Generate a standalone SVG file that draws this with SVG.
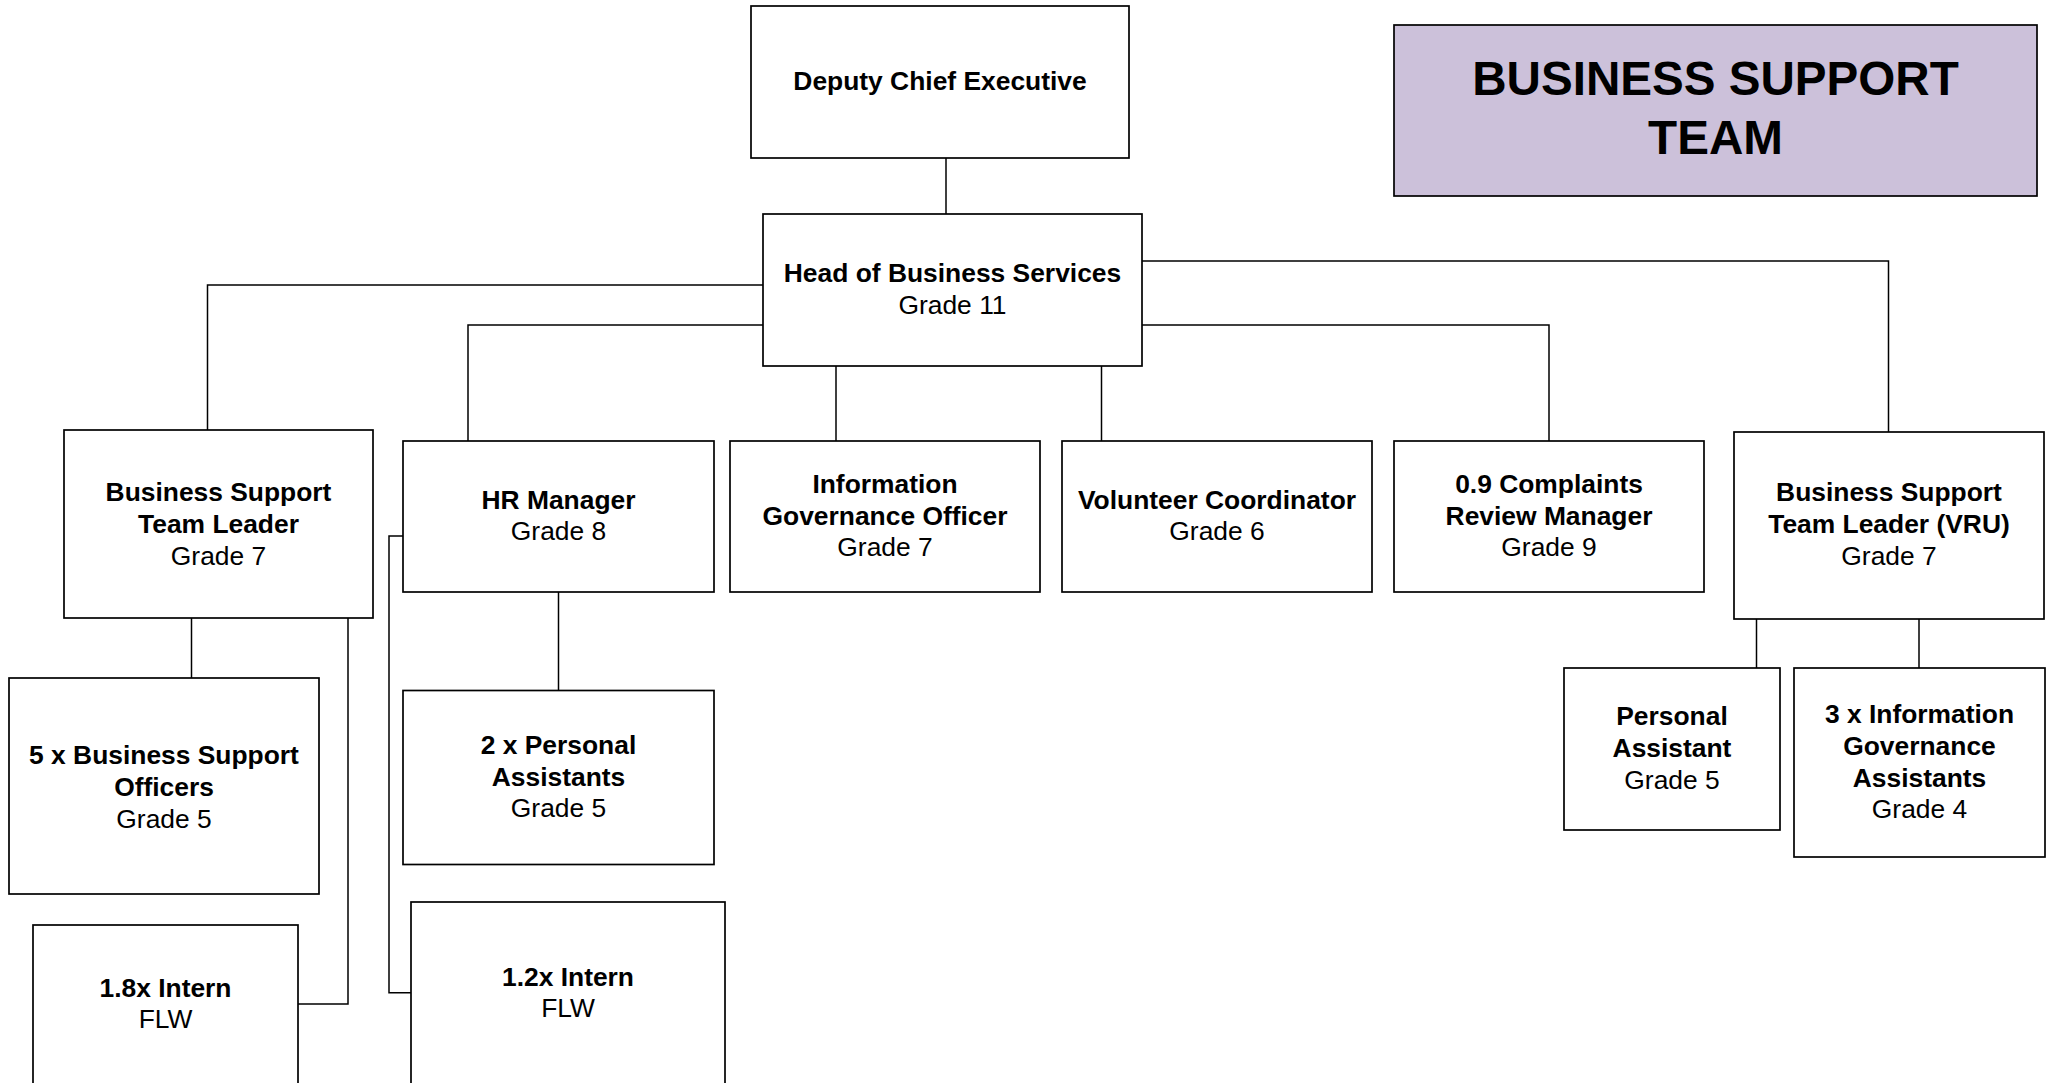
<svg xmlns="http://www.w3.org/2000/svg" width="2056" height="1083" viewBox="0 0 2056 1083">
<style>
.box{fill:#ffffff;stroke:#000000;stroke-width:1.7}
.title{fill:#ccc1da;stroke:#000000;stroke-width:1.7}
.conn{fill:none;stroke:#000000;stroke-width:1.5}
text{font-family:"Liberation Sans",Arial,sans-serif;font-size:26.4px;fill:#000000;text-anchor:middle}
.b{font-weight:bold}
.t{font-weight:bold;font-size:47.6px}
</style>
<rect width="2056" height="1083" fill="#ffffff"/>
<g id="connectors">
<path class="conn" d="M946 158 V214"/>
<path class="conn" d="M763 285 H207.5 V430"/>
<path class="conn" d="M763 325 H468 V441"/>
<path class="conn" d="M836 366 V441"/>
<path class="conn" d="M1101.5 366 V441"/>
<path class="conn" d="M1142 325 H1549 V441"/>
<path class="conn" d="M1142 261 H1888.5 V432"/>
<path class="conn" d="M191.5 618 V678"/>
<path class="conn" d="M348 618 V1004 H298"/>
<path class="conn" d="M558.5 592 V690.5"/>
<path class="conn" d="M403 536 H389 V992.7 H411"/>
<path class="conn" d="M1756.5 619 V668"/>
<path class="conn" d="M1919 619 V668"/>
</g>
<g id="title">
<rect class="title" x="1394" y="25" width="643" height="171"/>
<text class="t" x="1715.5" y="94.5">BUSINESS SUPPORT</text>
<text class="t" x="1715.5" y="154">TEAM</text>
</g>
<g id="dce">
<rect class="box" x="751" y="6" width="378" height="152"/>
<text class="b" x="940" y="90">Deputy Chief Executive</text>
</g>
<g id="hbs">
<rect class="box" x="763" y="214" width="379" height="152"/>
<text class="b" x="952.5" y="282">Head of Business Services</text>
<text x="952.5" y="313.5">Grade 11</text>
</g>
<g id="bstl">
<rect class="box" x="64" y="430" width="309" height="188"/>
<text class="b" x="218.5" y="501">Business Support</text>
<text class="b" x="218.5" y="533">Team Leader</text>
<text x="218.5" y="565">Grade 7</text>
</g>
<g id="hr">
<rect class="box" x="403" y="441" width="311" height="151"/>
<text class="b" x="558.5" y="509">HR Manager</text>
<text x="558.5" y="540">Grade 8</text>
</g>
<g id="igo">
<rect class="box" x="730" y="441" width="310" height="151"/>
<text class="b" x="885" y="493">Information</text>
<text class="b" x="885" y="525">Governance Officer</text>
<text x="885" y="556">Grade 7</text>
</g>
<g id="vol">
<rect class="box" x="1062" y="441" width="310" height="151"/>
<text class="b" x="1217" y="508.5">Volunteer Coordinator</text>
<text x="1217" y="539.5">Grade 6</text>
</g>
<g id="crm">
<rect class="box" x="1394" y="441" width="310" height="151"/>
<text class="b" x="1549" y="493">0.9 Complaints</text>
<text class="b" x="1549" y="525">Review Manager</text>
<text x="1549" y="556">Grade 9</text>
</g>
<g id="vru">
<rect class="box" x="1734" y="432" width="310" height="187"/>
<text class="b" x="1889" y="501">Business Support</text>
<text class="b" x="1889" y="533">Team Leader (VRU)</text>
<text x="1889" y="565">Grade 7</text>
</g>
<g id="bso">
<rect class="box" x="9" y="678" width="310" height="216"/>
<text class="b" x="164" y="764">5 x Business Support</text>
<text class="b" x="164" y="796">Officers</text>
<text x="164" y="828">Grade 5</text>
</g>
<g id="intern18">
<rect class="box" x="33" y="925" width="265" height="175"/>
<text class="b" x="165.5" y="997">1.8x Intern</text>
<text x="165.5" y="1028">FLW</text>
</g>
<g id="pa2">
<rect class="box" x="403" y="690.5" width="311" height="174"/>
<text class="b" x="558.5" y="754">2 x Personal</text>
<text class="b" x="558.5" y="786">Assistants</text>
<text x="558.5" y="817">Grade 5</text>
</g>
<g id="intern12">
<rect class="box" x="411" y="902" width="314" height="195"/>
<text class="b" x="568" y="986">1.2x Intern</text>
<text x="568" y="1017">FLW</text>
</g>
<g id="pa">
<rect class="box" x="1564" y="668" width="216" height="162"/>
<text class="b" x="1672" y="725">Personal</text>
<text class="b" x="1672" y="757">Assistant</text>
<text x="1672" y="789">Grade 5</text>
</g>
<g id="iga">
<rect class="box" x="1794" y="668" width="251" height="189"/>
<text class="b" x="1919.5" y="723">3 x Information</text>
<text class="b" x="1919.5" y="754.5">Governance</text>
<text class="b" x="1919.5" y="786.5">Assistants</text>
<text x="1919.5" y="818">Grade 4</text>
</g>
</svg>
